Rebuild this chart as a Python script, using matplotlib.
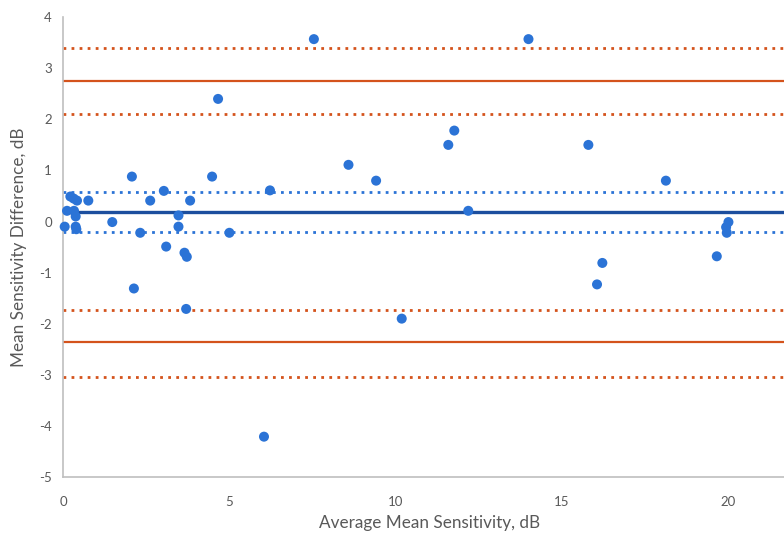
import numpy as np
import matplotlib
matplotlib.use("Agg")
import matplotlib.pyplot as plt

# average mean sensitivity (x) and mean sensitivity difference (y)
avg_sens = [0.05, 0.12, 0.22, 0.32, 0.42, 0.33, 0.38, 0.38, 0.40, 0.76,
            1.48, 2.07, 2.13, 2.32, 2.62, 3.03, 3.10, 3.47, 3.47, 3.65,
            3.72, 3.70, 3.82, 4.48, 4.66, 5.00, 6.04, 6.22, 7.54, 8.58,
            9.41, 10.18, 11.58, 11.76, 12.18, 13.99, 15.79, 16.05, 16.21, 18.12,
            19.65, 19.93, 19.95, 20.00]
diff_sens = [-0.10, 0.21, 0.49, 0.45, 0.41, 0.21, 0.10, -0.10, -0.15, 0.41,
             -0.01, 0.88, -1.31, -0.22, 0.41, 0.60, -0.49, 0.12, -0.10, -0.61,
             -0.69, -1.71, 0.41, 0.88, 2.40, -0.22, -4.21, 0.61, 3.57, 1.11,
             0.80, -1.90, 1.50, 1.78, 0.21, 3.57, 1.50, -1.23, -0.81, 0.80,
             -0.68, -0.11, -0.22, -0.01]

mean_diff = 0.19
mean_ci = [0.58, -0.20]
loa = [2.75, -2.36]
loa_ci = [3.40, 2.10, -1.73, -3.05]

blue = '#2b73d6'
dark_blue = '#1c4e9e'
orange = '#d4531c'
grey = '#595959'

plt.rcParams['font.family'] = ['Lato', 'DejaVu Sans']
plt.rcParams['axes.unicode_minus'] = False

fig = plt.figure(figsize=(7.84, 5.36), dpi=100)
ax = fig.add_axes([0.0804, 0.110, 0.9196, 0.858])

for v in loa_ci:
    ax.axhline(v, color=orange, lw=2.0, linestyle=(0, (1, 1.9)), zorder=1)
for v in loa:
    ax.axhline(v, color=orange, lw=1.6, zorder=1)
for v in mean_ci:
    ax.axhline(v, color=blue, lw=2.0, linestyle=(0, (1, 1.9)), zorder=1)
ax.axhline(mean_diff, color=dark_blue, lw=2.4, zorder=1)

ax.scatter(avg_sens, diff_sens, s=52, color=blue, edgecolors='none',
           zorder=3, clip_on=False)

ax.set_xlim(0, 21.67)
ax.set_ylim(-5, 4)
ax.set_xticks([0, 5, 10, 15, 20])
ax.set_yticks(np.arange(-5, 5, 1))
ax.tick_params(length=0, labelsize=9.5, labelcolor=grey, pad=8)
ax.tick_params(axis='x', pad=14)

for s in ['top', 'right']:
    ax.spines[s].set_visible(False)
for s in ['left', 'bottom']:
    ax.spines[s].set_color('#bfbfbf')
    ax.spines[s].set_linewidth(1.2)

ax.set_xlabel('Average Mean Sensitivity, dB', fontsize=12.3, color=grey)
ax.set_ylabel('Mean Sensitivity Difference, dB', fontsize=12.3, color=grey)
ax.xaxis.set_label_coords(0.508, -0.082)
ax.yaxis.set_label_coords(-0.05, 0.5)

fig.savefig('out.png', dpi=100)
